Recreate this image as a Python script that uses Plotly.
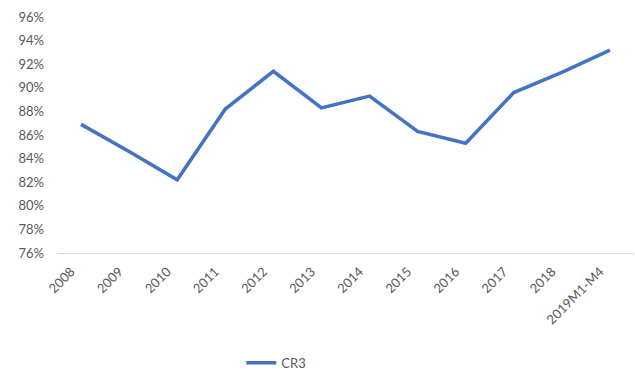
import plotly.graph_objects as go

# CR3 concentration ratio by year (%)
years = ["2008", "2009", "2010", "2011", "2012", "2013", "2014",
         "2015", "2016", "2017", "2018", "2019M1-M4"]
cr3 = [86.9, 84.6, 82.2, 88.2, 91.4, 88.3, 89.3, 86.3, 85.3, 89.6, 91.3, 93.2]
y_ticks = list(range(76, 97, 2))

fig = go.Figure()
fig.add_trace(go.Scatter(
    x=years, y=cr3, mode="lines", name="CR3",
    line=dict(color="#4472C4", width=3.5),
))

font_family = "Lato, Open Sans, sans-serif"
fig.update_layout(
    width=635, height=372,
    margin=dict(l=57, r=1, t=17, b=119),
    paper_bgcolor="white", plot_bgcolor="white",
    font=dict(family=font_family, size=13, color="#595959"),
    showlegend=True,
    legend=dict(
        orientation="h", xref="container", x=0.38, xanchor="left",
        yref="container", y=0.025, yanchor="middle",
        font=dict(size=13, color="#595959"),
    ),
    xaxis=dict(
        type="category", tickangle=-45,
        range=[-0.5, len(years) - 0.5],
        showgrid=False, showline=True, linecolor="#D9D9D9", linewidth=1,
        ticks="", ticklabelstandoff=5, ticklabelshift=-10,
        tickfont=dict(size=13, color="#595959"),
    ),
    yaxis=dict(
        range=[76, 96], tickvals=y_ticks,
        ticktext=[f"{v}%" for v in y_ticks],
        showgrid=False, zeroline=False, showline=False, ticks="",
        ticklabelstandoff=12,
        tickfont=dict(size=13, color="#595959"),
    ),
)

fig.write_html("out.html")
